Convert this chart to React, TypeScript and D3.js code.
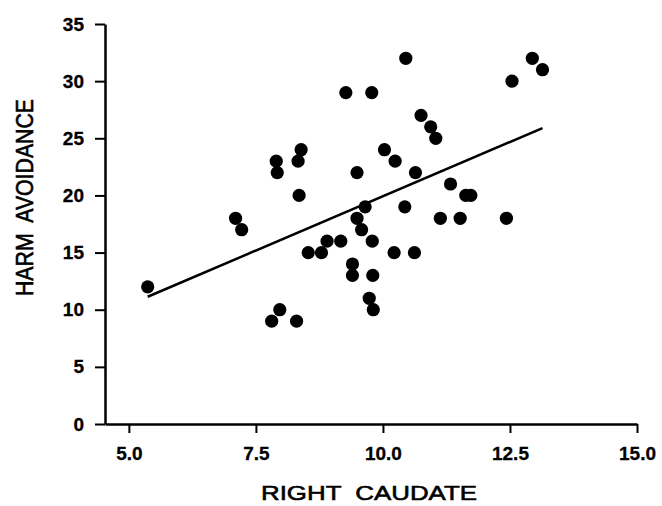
import React, { useEffect, useRef } from "react";
import * as d3 from "d3";

const width = 662;
const height = 506;
const margin = { top: 24, right: 25, bottom: 82, left: 105 };

// right caudate volume (x) vs harm avoidance score (y)
const caudate = [
  5.37, 7.1, 7.22, 7.81, 7.9, 7.92, 7.97, 8.3, 8.33, 8.35, 8.39, 8.53, 8.79,
  8.9, 9.17, 9.27, 9.4, 9.4, 9.49, 9.49, 9.58, 9.65, 9.73, 9.78, 9.79, 9.8,
  9.81, 10.03, 10.22, 10.24, 10.43, 10.45, 10.62, 10.64, 10.75, 10.94, 11.04,
  11.13, 11.33, 11.52, 11.63, 11.73, 12.43, 12.54, 12.94, 13.14,
];
const harmAvoidance = [
  12, 18, 17, 9, 23, 22, 10, 9, 23, 20, 24, 15, 15, 16, 16, 29, 14, 13, 22, 18,
  17, 19, 11, 29, 16, 13, 10, 24, 15, 23, 19, 32, 15, 22, 27, 26, 25, 18, 21,
  18, 20, 20, 18, 30, 32, 31,
];

// fitted regression line
const fitIntercept = 0.93;
const fitSlope = 1.9;

const xTicks = [5, 7.5, 10, 12.5, 15];
const yTicks = [0, 5, 10, 15, 20, 25, 30, 35];
const xTitle = "RIGHT  CAUDATE";
const yTitle = "HARM  AVOIDANCE";

const font = "'Liberation Sans', Arial, Helvetica, sans-serif";

const x = d3
  .scaleLinear()
  .domain([4.53, 15])
  .range([margin.left, width - margin.right]);
const y = d3
  .scaleLinear()
  .domain([0, 35])
  .range([height - margin.bottom, margin.top]);

export default function App() {
  const xAxisRef = useRef<SVGGElement>(null);
  const yAxisRef = useRef<SVGGElement>(null);

  useEffect(() => {
    const xAxis = d3
      .axisBottom(x)
      .tickValues(xTicks)
      .tickSize(9)
      .tickSizeOuter(0)
      .tickPadding(14)
      .tickFormat((d) => d3.format(".1f")(d as number));
    const yAxis = d3
      .axisLeft(y)
      .tickValues(yTicks)
      .tickSize(10)
      .tickSizeOuter(0)
      .tickPadding(11)
      .tickFormat((d) => String(d));

    for (const [ref, axis] of [
      [xAxisRef, xAxis],
      [yAxisRef, yAxis],
    ] as const) {
      const g = d3.select(ref.current!);
      g.call(axis as any);
      g.select(".domain").attr("stroke", "#000").attr("stroke-width", 2.5);
      g.selectAll(".tick line").attr("stroke", "#000").attr("stroke-width", 2);
      g.selectAll(".tick text")
        .attr("fill", "#000")
        .attr("stroke", "#000")
        .attr("stroke-width", 0.3)
        .style("font-family", font)
        .style("font-size", "19px")
        .style("font-weight", "bold");
    }
  }, []);

  const points = caudate.map((c, i) => ({ cx: x(c), cy: y(harmAvoidance[i]) }));
  const [xMin, xMax] = d3.extent(caudate) as [number, number];
  const fit = d3.line<number>()
    .x((d) => x(d))
    .y((d) => y(fitIntercept + fitSlope * d))([xMin, xMax]);

  return (
    <svg
      width={width}
      height={height}
      style={{ position: "absolute", left: 0, top: 0, background: "#fff" }}
    >
      <g ref={xAxisRef} transform={`translate(0, ${height - margin.bottom})`} />
      <g ref={yAxisRef} transform={`translate(${margin.left}, 0)`} />
      <path d={fit ?? ""} fill="none" stroke="#000" strokeWidth={2.5} />
      {points.map((p, i) => (
        <circle key={i} cx={p.cx} cy={p.cy} r={6.6} fill="#000" />
      ))}
      <text
        x={369}
        y={500}
        textAnchor="middle"
        textLength={216}
        lengthAdjust="spacingAndGlyphs"
        style={{ fontFamily: font, fontSize: 21, whiteSpace: "pre" }}
        stroke="#000"
        strokeWidth={0.6}
      >
        {xTitle}
      </text>
      <text
        transform="translate(33, 197.5) rotate(-90)"
        textAnchor="middle"
        textLength={197}
        lengthAdjust="spacingAndGlyphs"
        style={{ fontFamily: font, fontSize: 23, whiteSpace: "pre" }}
        stroke="#000"
        strokeWidth={0.6}
      >
        {yTitle}
      </text>
    </svg>
  );
}
